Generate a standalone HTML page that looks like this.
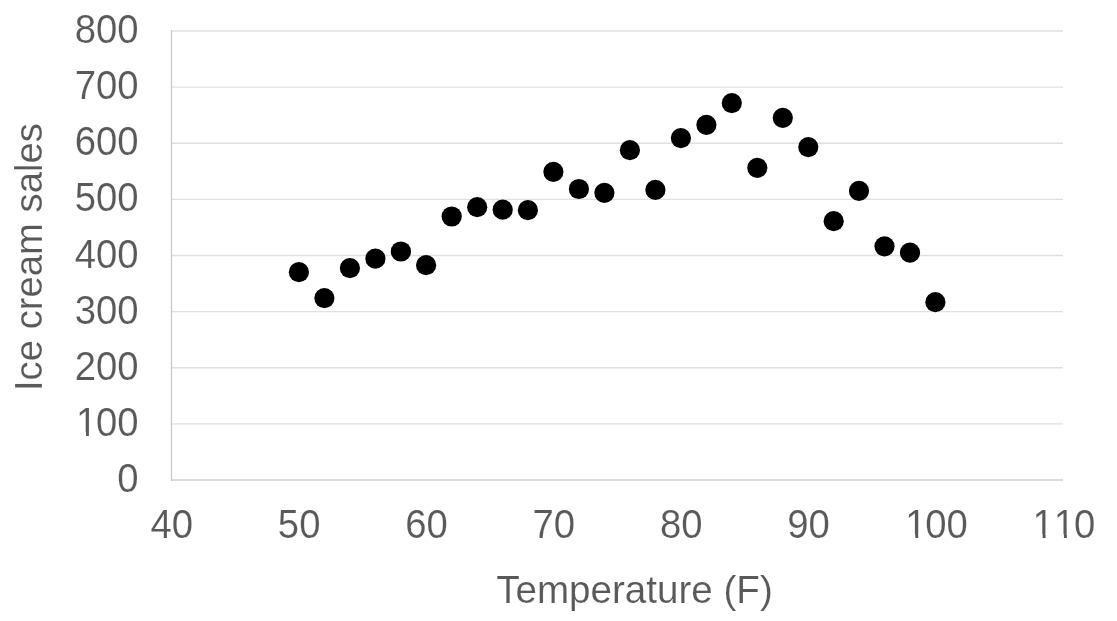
<!DOCTYPE html>
<html lang="en">
<head>
<meta charset="utf-8">
<title>Ice cream sales vs Temperature</title>
<style>
html,body{margin:0;padding:0;background:#fff;}
body{width:1117px;height:621px;overflow:hidden;}
svg{display:block;}
.t{font-family:"Liberation Sans",sans-serif;fill:#595959;stroke:#fff;stroke-width:0.15px;}
.k{font-size:38.3px;font-kerning:none;}
.m{fill:#fff;stroke:none;}
</style>
</head>
<body>
<svg width="1117" height="621" viewBox="0 0 1117 621">
<rect width="1117" height="621" fill="#fff"/>
<!-- horizontal gridlines -->
<g stroke="#e0e0e0" stroke-width="1.45" fill="none">
<line x1="171.5" y1="31.00" x2="1063.0" y2="31.00"/>
<line x1="171.5" y1="87.12" x2="1063.0" y2="87.12"/>
<line x1="171.5" y1="143.25" x2="1063.0" y2="143.25"/>
<line x1="171.5" y1="199.38" x2="1063.0" y2="199.38"/>
<line x1="171.5" y1="255.50" x2="1063.0" y2="255.50"/>
<line x1="171.5" y1="311.62" x2="1063.0" y2="311.62"/>
<line x1="171.5" y1="367.75" x2="1063.0" y2="367.75"/>
<line x1="171.5" y1="423.88" x2="1063.0" y2="423.88"/>
</g>
<!-- axes -->
<line x1="171.0" y1="480.00" x2="1063.0" y2="480.00" stroke="#dcdcdc" stroke-width="2"/>
<line x1="171.5" y1="30.20" x2="171.5" y2="481.00" stroke="#c6c6c6" stroke-width="1.2"/>
<!-- y axis tick labels -->
<g class="t k">
<g transform="translate(138.60 43.10) scale(1 1.080)"><text x="-63.90 -42.60 -21.30">800</text></g>
<g transform="translate(138.60 99.22) scale(1 1.080)"><text x="-63.90 -42.60 -21.30">700</text></g>
<g transform="translate(138.60 155.35) scale(1 1.080)"><text x="-63.90 -42.60 -21.30">600</text></g>
<g transform="translate(138.60 211.47) scale(1 1.080)"><text x="-63.90 -42.60 -21.30">500</text></g>
<g transform="translate(138.60 267.60) scale(1 1.080)"><text x="-63.90 -42.60 -21.30">400</text></g>
<g transform="translate(138.60 323.73) scale(1 1.080)"><text x="-63.90 -42.60 -21.30">300</text></g>
<g transform="translate(138.60 379.85) scale(1 1.080)"><text x="-63.90 -42.60 -21.30">200</text></g>
<g transform="translate(138.60 435.98) scale(1 1.080)"><text x="-62.70 -42.60 -21.30">100</text><rect class="m" x="-60.58" y="-3.56" width="7.96" height="4.36"/><rect class="m" x="-49.69" y="-3.56" width="7.21" height="4.36"/></g>
<g transform="translate(138.60 492.10) scale(1 1.080)"><text x="-21.30">0</text></g>
</g>
<!-- x axis tick labels -->
<g class="t k">
<g transform="translate(171.80 538.30) scale(1 1.080)"><text x="-21.30 0.00">40</text></g>
<g transform="translate(299.16 538.30) scale(1 1.080)"><text x="-21.30 0.00">50</text></g>
<g transform="translate(426.51 538.30) scale(1 1.080)"><text x="-21.30 0.00">60</text></g>
<g transform="translate(553.87 538.30) scale(1 1.080)"><text x="-21.30 0.00">70</text></g>
<g transform="translate(681.23 538.30) scale(1 1.080)"><text x="-21.30 0.00">80</text></g>
<g transform="translate(808.59 538.30) scale(1 1.080)"><text x="-21.30 0.00">90</text></g>
<g transform="translate(935.94 538.30) scale(1 1.080)"><text x="-30.75 -10.65 10.65">100</text><rect class="m" x="-28.63" y="-3.56" width="7.96" height="4.36"/><rect class="m" x="-17.73" y="-3.56" width="7.21" height="4.36"/></g>
<g transform="translate(1063.30 538.30) scale(1 1.080)"><text x="-30.75 -9.45 10.65">110</text><rect class="m" x="-28.63" y="-3.56" width="7.96" height="4.36"/><rect class="m" x="-17.73" y="-3.56" width="7.21" height="4.36"/><rect class="m" x="-7.33" y="-3.56" width="7.96" height="4.36"/><rect class="m" x="3.57" y="-3.56" width="7.21" height="4.36"/></g>
</g>
<!-- axis titles -->
<text class="t" style="font-size:38.6px" text-anchor="middle" x="634.5" y="602.8">Temperature (F)</text>
<text class="t" style="font-size:38.25px" text-anchor="middle" transform="translate(41.5 257.1) rotate(-90)">Ice cream sales</text>
<!-- data points -->
<g fill="#000">
<circle cx="298.9" cy="272.2" r="10.1"/>
<circle cx="324.4" cy="298.1" r="10.1"/>
<circle cx="349.9" cy="268.1" r="10.1"/>
<circle cx="375.4" cy="258.7" r="10.1"/>
<circle cx="400.9" cy="251.5" r="10.1"/>
<circle cx="426.1" cy="265.2" r="10.1"/>
<circle cx="451.7" cy="216.5" r="10.1"/>
<circle cx="477.2" cy="207.2" r="10.1"/>
<circle cx="502.7" cy="209.7" r="10.1"/>
<circle cx="527.9" cy="210.2" r="10.1"/>
<circle cx="553.4" cy="171.8" r="10.1"/>
<circle cx="578.9" cy="189.0" r="10.1"/>
<circle cx="604.4" cy="192.8" r="10.1"/>
<circle cx="629.9" cy="150.2" r="10.1"/>
<circle cx="655.4" cy="189.9" r="10.1"/>
<circle cx="680.9" cy="138.1" r="10.1"/>
<circle cx="706.4" cy="124.8" r="10.1"/>
<circle cx="731.8" cy="103.1" r="10.1"/>
<circle cx="757.3" cy="167.8" r="10.1"/>
<circle cx="782.8" cy="117.8" r="10.1"/>
<circle cx="808.3" cy="147.1" r="10.1"/>
<circle cx="833.7" cy="221.2" r="10.1"/>
<circle cx="859.0" cy="190.8" r="10.1"/>
<circle cx="884.5" cy="246.3" r="10.1"/>
<circle cx="910.0" cy="252.6" r="10.1"/>
<circle cx="935.4" cy="302.2" r="10.1"/>
</g>
</svg>
</body>
</html>
